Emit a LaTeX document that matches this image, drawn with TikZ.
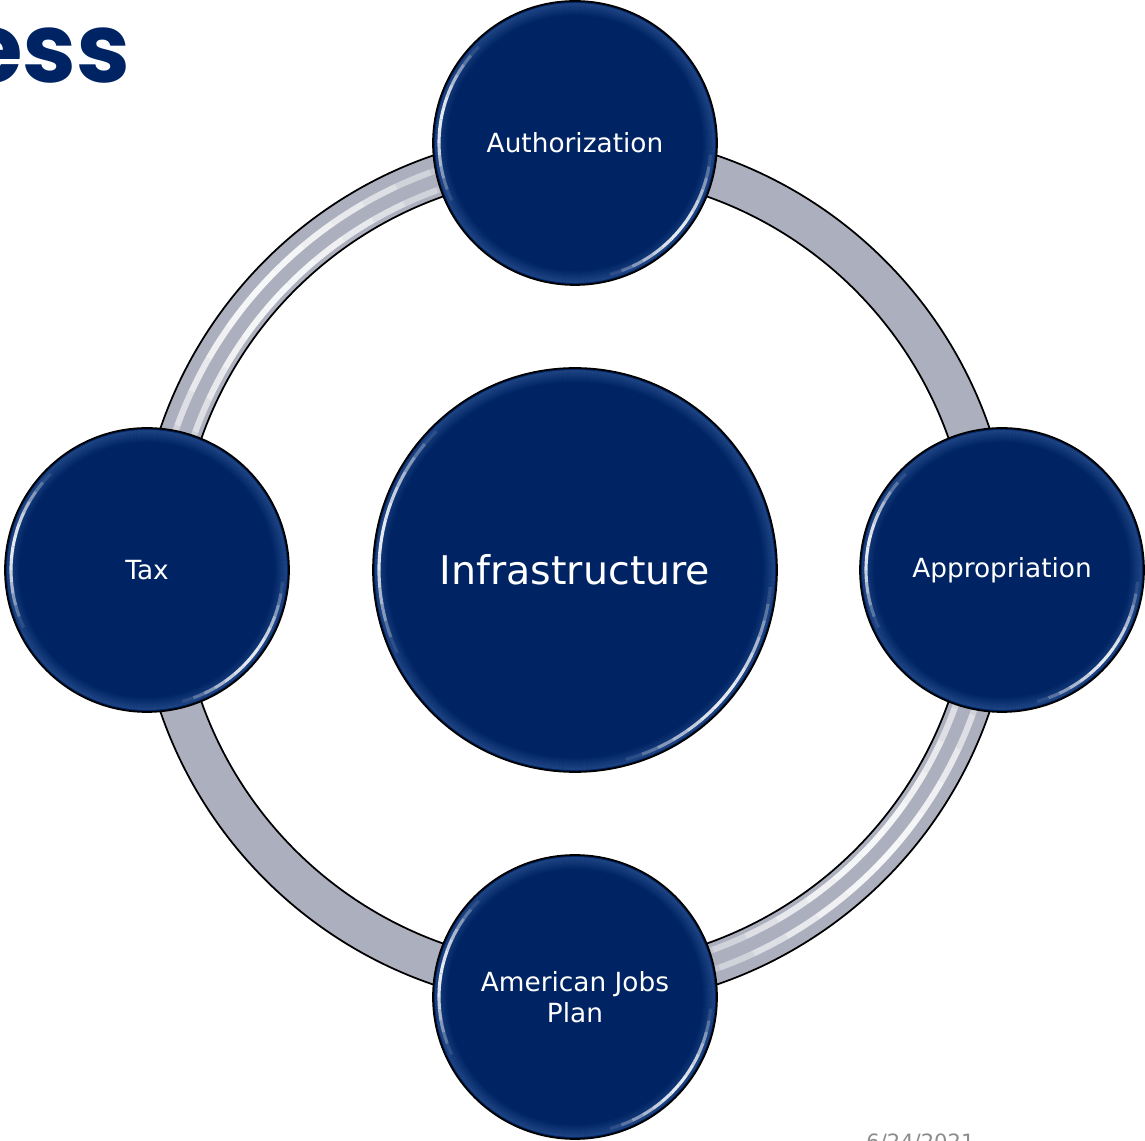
\documentclass[tikz,border=0pt]{standalone}
\usepackage{fontspec}
\setmainfont{DejaVu Sans}
\newfontfamily\titlefont{Poppins}
\usetikzlibrary{backgrounds}

\definecolor{navy}{RGB}{0,36,99}
\definecolor{ringgray}{RGB}{172,175,189}
\definecolor{glowblue}{RGB}{90,130,195}
\definecolor{dategray}{RGB}{140,140,140}

% glossy rim of a bubble: #1 node, #2 radius (px)
\newcommand\shine[2]{%
    \foreach \k in {0,...,5} {
        \pgfmathsetmacro\gl{0.3*(1-\k/6)}
        \draw[glowblue, opacity=\gl, line width=1.2pt] (#1.center) circle[radius=#2-3-2*\k];
    }
    \foreach \i in {0,...,13} {
        \pgfmathsetmacro\op{0.9*sin(180*(\i+0.5)/14)}
        \draw[white, opacity=\op, line width=1.8pt]
            ([shift={(135+5*\i:#2-6)}]#1.center) arc[start angle=135+5*\i, end angle=140+5*\i, radius=#2-6];
        \draw[white, opacity=\op, line width=1.8pt]
            ([shift={(-75+5*\i:#2-6)}]#1.center) arc[start angle=-75+5*\i, end angle=-70+5*\i, radius=#2-6];
    }
}

\begin{document}
\begin{tikzpicture}[x=0.02cm, y=0.02cm,
        bubble/.style={circle, draw=black, line width=1pt, fill=navy, text=white,
            minimum size=5.68cm, inner sep=0pt, align=center,
            font=\fontsize{15}{17.6}\selectfont},
        hubbubble/.style={bubble, minimum size=8.08cm, font=\fontsize{22.5}{27}\selectfont}]
    \useasboundingbox (-575,-571) rectangle (570,570);

    % --- Title and date (cut by the page) ---
    \node[anchor=base east, inner sep=0pt, text=navy, font=\titlefont\bfseries\fontsize{55}{60}\selectfont] (title) at (-444,487) {ess};
    \node[anchor=north west, inner sep=0pt, text=dategray, font=\fontsize{12}{14}\selectfont] (date) at (291,-563) {6/24/2021};

    % --- Bubbles ---
    \node[hubbubble] (infra) at (0,0) {Infrastructure};
    \node[bubble] (auth) at (0,427) {Authorization};
    \node[bubble] (approp) at (427,0) {Appropriation};
    \node[bubble] (plan) at (0,-427) {American Jobs\\Plan};
    \node[bubble] (tax) at (-428,0) {Tax};

    \shine{infra}{202}
    \foreach \n in {auth, approp, plan, tax} {
        \shine{\n}{142}
    }

    % --- Ring behind the bubbles ---
    \begin{scope}[on background layer]
        \fill[ringgray, even odd rule] (infra.center) circle[radius=438] (infra.center) circle[radius=396];
        % light stripes, upper left and lower right
        \foreach \i in {0,...,14} {
            \pgfmathsetmacro\op{0.9*sin(180*(\i+0.5)/15)}
            \foreach \r in {404, 423} {
                \draw[white, opacity=\op, line width=3.5pt]
                    ([shift={(100+5*\i:\r)}]infra.center) arc[start angle=100+5*\i, end angle=105+5*\i, radius=\r];
                \draw[white, opacity=\op, line width=3.5pt]
                    ([shift={(-80+5*\i:\r)}]infra.center) arc[start angle=-80+5*\i, end angle=-75+5*\i, radius=\r];
            }
        }
        \draw[line width=1pt] (infra.center) circle[radius=438];
        \draw[line width=1pt] (infra.center) circle[radius=396];
    \end{scope}
\end{tikzpicture}
\end{document}
